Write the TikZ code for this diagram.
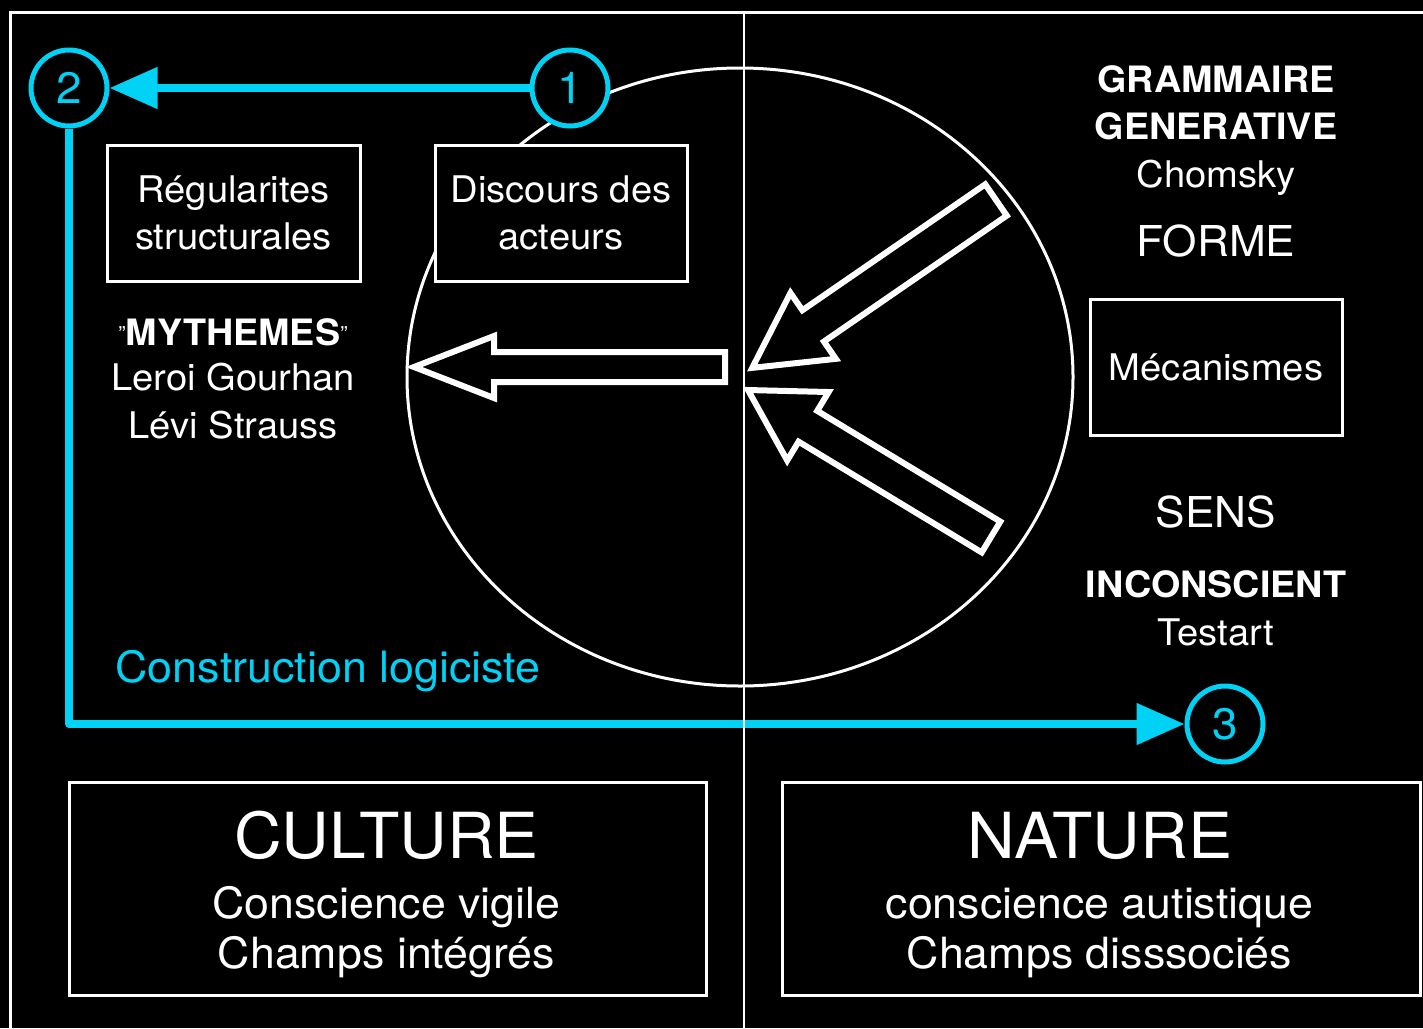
\documentclass[tikz,border=0pt]{standalone}
\usepackage{fontspec}
\setmainfont[FakeStretch=1.04]{TeX Gyre Heros}
\usetikzlibrary{arrows.meta}
\definecolor{cyanc}{RGB}{0,210,245}
\newcommand\fsz[2]{\fontsize{#1}{#2}\selectfont}
\newcommand\smallquote{\raisebox{4pt}{\mdseries\fsz{21}{21}"}}
\begin{document}
\begin{tikzpicture}[x=1pt,y=-1pt,
  wbox/.style={draw=white, line width=3pt, fill=black, inner sep=0pt, text=white, align=center},
  txt/.style={text=white, inner sep=0pt, anchor=base},
  body/.style={txt, font=\fsz{36.7}{47}},
  bodyb/.style={txt, font=\fsz{36.3}{47}\bfseries},
  mid/.style={txt, font=\fsz{42.5}{50}},
  big/.style={txt, font=\fsz{63.5}{70}},
  num/.style={circle, draw=cyanc, line width=5pt, fill=black, minimum size=76pt, inner sep=0pt, text=cyanc, font=\fsz{44}{44}},
  cyanline/.style={draw=cyanc, line width=8pt, line join=round, -{Triangle[length=48pt,width=40pt]}},
  blockarrow/.style={draw=white, fill=black, line width=6pt, line join=miter}
]
% background and bounding box
\fill[black] (0,0) rectangle (1423,1028);
\useasboundingbox (0,0) rectangle (1423,1028);
% frame and divider
\draw[white, line width=3pt] (10,1035) -- (10,12) -- (1430,12);
\draw[white, line width=2.5pt] (744,12) -- (744,1035);
% big circle
\draw[white, line width=3pt] (740,377) ellipse [x radius=333, y radius=309];

% boxes
\node[wbox, minimum width=253pt, minimum height=136pt, font=\fsz{36.7}{47}] (reg) at (233.5,213) {Régularites\\structurales};
\node[wbox, minimum width=252pt, minimum height=136pt, font=\fsz{36.7}{47}] (disc) at (561,213) {Discours des\\acteurs};
\node[wbox, minimum width=252pt, minimum height=136pt, font=\fsz{36.7}{47}] (meca) at (1216,367) {Mécanismes};
\node[wbox, minimum width=637pt, minimum height=213pt] (cult) at (387.5,888.5) {};
\node[wbox, minimum width=638pt, minimum height=213pt] (nat) at (1101,888.5) {};

% block arrows
\begin{scope}[shift={(725,367)}, rotate=180]
  \draw[blockarrow] (0,-15) -- (231,-15) -- (231,-31) -- (311,0) -- (231,31) -- (231,15) -- (0,15) -- cycle;
\end{scope}
\begin{scope}[shift={(996,200)}, rotate=214.55]
  \draw[blockarrow] (0,-19) -- (222,-19) -- (222,-40) -- (296,0) -- (222,40) -- (222,19) -- (0,19) -- cycle;
\end{scope}
\begin{scope}[shift={(991,537)}, rotate=148.83]
  \draw[blockarrow] (0,-18) -- (214,-18) -- (214,-40) -- (284,0) -- (214,40) -- (214,18) -- (0,18) -- cycle;
\end{scope}

% left texts
\node[bodyb] (myth) at (233,345) {\smallquote MYTHEMES\smallquote};
\node[body] (leroi) at (233,390) {Leroi Gourhan};
\node[body] (levi) at (233,438) {Lévi Strauss};
\node[txt, text=cyanc, font=\fsz{43.1}{50}] (constr) at (328,682) {Construction logiciste};

% right texts
\node[bodyb] (gram) at (1216,92) {GRAMMAIRE};
\node[bodyb] (gene) at (1216,139) {GENERATIVE};
\node[body] (chom) at (1216,187) {Chomsky};
\node[mid] (forme) at (1216,256) {FORME};
\node[mid] (sens) at (1216,527) {SENS};
\node[bodyb] (incon) at (1216,597) {INCONSCIENT};
\node[body] (test) at (1216,645) {Testart};

% bottom box texts
\node[big] (culture) at (386.5,858) {CULTURE};
\node[txt, font=\fsz{43}{50}] (cv) at (386.5,918) {Conscience vigile};
\node[txt, font=\fsz{43}{50}] (ci) at (386.5,968) {Champs intégrés};
\node[big] (nature) at (1100,858) {NATURE};
\node[txt, font=\fsz{43}{50}] (ca) at (1099.5,918) {conscience autistique};
\node[txt, font=\fsz{43}{50}] (cd) at (1099.5,968) {Champs disssociés};

% numbered circles
\node[num] (c1) at (570,88) {1};
\node[num] (c2) at (69,88) {2};
\node[num] (c3) at (1225,724) {3};

% cyan connectors
\draw[cyanline] (c1) -- (c2);
\draw[cyanline] (c2) |- (c3);
\draw[white, line width=2.5pt] (744,712) -- (744,738);
\end{tikzpicture}
\end{document}
